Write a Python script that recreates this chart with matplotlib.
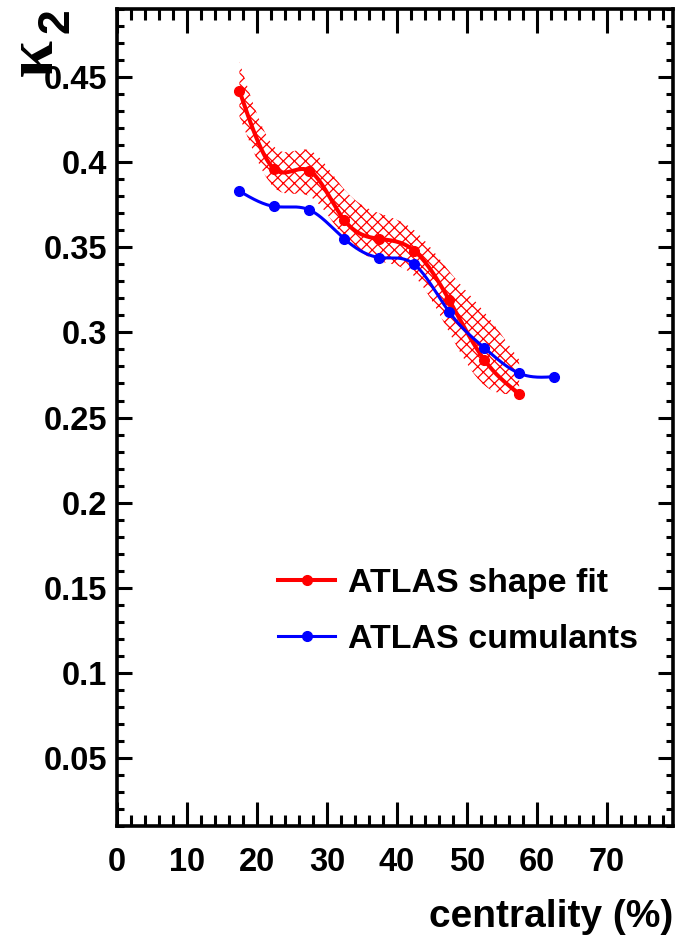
import numpy as np
import matplotlib
matplotlib.use('Agg')
import matplotlib.pyplot as plt
from matplotlib.ticker import MultipleLocator

plt.rcParams['font.family'] = ['Liberation Sans', 'DejaVu Sans']
plt.rcParams['font.weight'] = 'bold'
plt.rcParams['hatch.color'] = 'red'
plt.rcParams['hatch.linewidth'] = 0.9

# data
cent_fit = [17.5, 22.5, 27.5, 32.5, 37.5, 42.5, 47.5, 52.5, 57.5]
k2_fit = [0.442, 0.396, 0.395, 0.366, 0.355, 0.348, 0.319, 0.284, 0.264]
band_hi = [0.459, 0.409, 0.407, 0.384, 0.370, 0.360, 0.336, 0.312, 0.284]
band_lo = [0.427, 0.385, 0.380, 0.356, 0.342, 0.333, 0.300, 0.269, 0.264]

cent_cum = [17.5, 22.5, 27.5, 32.5, 37.5, 42.5, 47.5, 52.5, 57.5, 62.5]
k2_cum = [0.383, 0.374, 0.372, 0.355, 0.344, 0.340, 0.312, 0.291, 0.276, 0.274]


def smooth(x, y, n=300):
    # natural cubic spline through the points, only for drawing the curve
    x = np.asarray(x, float)
    y = np.asarray(y, float)
    h = np.diff(x)
    N = len(x)
    A = np.zeros((N, N))
    r = np.zeros(N)
    A[0, 0] = A[-1, -1] = 1
    for i in range(1, N - 1):
        A[i, i - 1] = h[i - 1]
        A[i, i] = 2 * (h[i - 1] + h[i])
        A[i, i + 1] = h[i]
        r[i] = 3 * ((y[i + 1] - y[i]) / h[i] - (y[i] - y[i - 1]) / h[i - 1])
    c = np.linalg.solve(A, r)
    b = (y[1:] - y[:-1]) / h - h * (2 * c[:-1] + c[1:]) / 3
    d = (c[1:] - c[:-1]) / (3 * h)
    xs = np.linspace(x[0], x[-1], n)
    idx = np.clip(np.searchsorted(x, xs) - 1, 0, N - 2)
    dx = xs - x[idx]
    ys = y[idx] + b[idx] * dx + c[idx] * dx ** 2 + d[idx] * dx ** 3
    return xs, ys


fig = plt.figure(figsize=(6.82, 9.41), dpi=100)
ax = fig.add_axes([0.1716, 0.1222, 0.8152, 0.8682])

# hatched band
xs, hi_s = smooth(cent_fit, band_hi)
xs, lo_s = smooth(cent_fit, band_lo)
ax.fill_between(xs, lo_s, hi_s, facecolor='none', edgecolor='red',
                hatch='xxx', linewidth=0)

# curves
xs, ys = smooth(cent_fit, k2_fit)
ax.plot(xs, ys, color='red', linewidth=2.9)
ax.plot(cent_fit, k2_fit, 'o', color='red', markersize=7)
xs, ys = smooth(cent_cum, k2_cum)
ax.plot(xs, ys, color='blue', linewidth=2.2)
ax.plot(cent_cum, k2_cum, 'o', color='blue', markersize=7)

ax.set_xlim(0, 79.5)
ax.set_ylim(0.01, 0.49)

ax.xaxis.set_minor_locator(MultipleLocator(2))
ax.yaxis.set_minor_locator(MultipleLocator(0.01))
ax.set_xticks(np.arange(0, 71, 10))
ax.set_xticklabels([str(v) for v in range(0, 71, 10)])
ax.set_yticks(np.arange(0.05, 0.451, 0.05))
ax.set_yticklabels(['0.05', '0.1', '0.15', '0.2', '0.25', '0.3', '0.35', '0.4', '0.45'])

ax.tick_params(axis='both', which='both', direction='in', top=True, right=True,
               width=2.2, labelsize=23.5)
ax.tick_params(axis='x', which='major', length=17, pad=15)
ax.tick_params(axis='x', which='minor', length=8)
ax.tick_params(axis='y', which='major', length=11, pad=7)
ax.tick_params(axis='y', which='minor', length=5)
for sp in ax.spines.values():
    sp.set_linewidth(2.6)

ax.set_xlabel('centrality (%)', fontsize=28, fontweight='bold')
ax.xaxis.set_label_coords(1.0, -0.089)
ax.xaxis.label.set_horizontalalignment('right')

fig.text(0.0513, 0.9394, '\u03ba', family='Liberation Serif', fontsize=48,
         fontweight='bold', rotation=90, ha='center', va='center')
fig.text(0.0836, 0.9777, '2', family='Liberation Sans', fontsize=32,
         fontweight='bold', rotation=90, ha='center', va='center')

# legend
h1, = ax.plot([], [], '-o', color='red', linewidth=2.9, markersize=7)
h2, = ax.plot([], [], '-o', color='blue', linewidth=2.2, markersize=7)
ax.legend([h1, h2], ['ATLAS shape fit', 'ATLAS cumulants'], loc='upper left',
          bbox_to_anchor=(0.290, 0.316), frameon=False, fontsize=24.5,
          borderpad=0, borderaxespad=0,
          handlelength=1.68, handletextpad=0.38, labelspacing=0.74)

fig.savefig('out.png', dpi=100)
